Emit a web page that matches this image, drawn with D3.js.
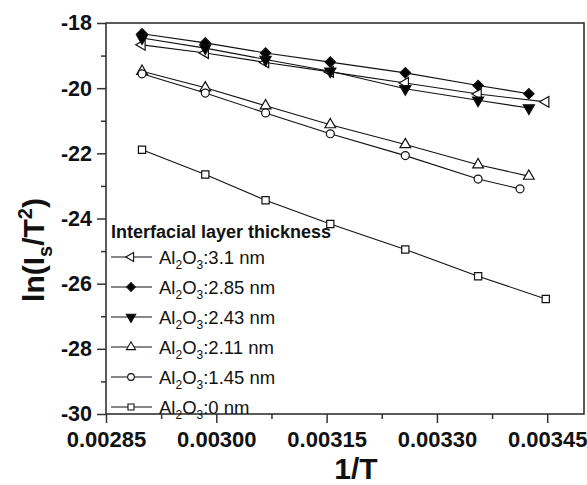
<!DOCTYPE html>
<html>
<head>
<meta charset="utf-8">
<script src="https://cdn.jsdelivr.net/npm/d3@7"></script>
<style>
  body { margin: 0; background: #fff; }
  text { font-family: "Liberation Sans", Arial, sans-serif; }
</style>
</head>
<body>
<div id="chart"></div>
<script>
// waarden
var thickness = ['3.1', '2.85', '2.43', '2.11', '1.45', '0'];
var invT310 = [0.002899, 0.002985, 0.003067, 0.003155, 0.003257, 0.003356, 0.003448];
var invT285 = [0.002899, 0.002985, 0.003067, 0.003155, 0.003257, 0.003356, 0.003425];
var invT243 = [0.002899, 0.002985, 0.003067, 0.003155, 0.003257, 0.003356, 0.003425];
var invT211 = [0.002899, 0.002985, 0.003067, 0.003155, 0.003257, 0.003356, 0.003425];
var invT145 = [0.002899, 0.002985, 0.003067, 0.003155, 0.003257, 0.003356, 0.003413];
var invT0 = [0.002899, 0.002985, 0.003067, 0.003155, 0.003257, 0.003356, 0.003448];
var ln310 = [-18.67, -18.92, -19.21, -19.50, -19.84, -20.18, -20.42];
var ln285 = [-18.33, -18.61, -18.92, -19.20, -19.53, -19.92, -20.17];
var ln243 = [-18.46, -18.77, -19.12, -19.48, -20.02, -20.37, -20.61];
var ln211 = [-19.48, -19.99, -20.54, -21.12, -21.73, -22.35, -22.70];
var ln145 = [-19.56, -20.15, -20.76, -21.40, -22.07, -22.79, -23.09];
var ln0 = [-21.89, -22.65, -23.44, -24.17, -24.95, -25.77, -26.47];
var xTicks = [0.00285, 0.00300, 0.00315, 0.00330, 0.00345];
var xMinor = [0.002925, 0.003075, 0.003225, 0.003375];
var yTicks = [-30, -28, -26, -24, -22, -20, -18];
var yMinor = [-29, -27, -25, -23, -21, -19];

var xs = [invT310, invT285, invT243, invT211, invT145, invT0];
var ys = [ln310, ln285, ln243, ln211, ln145, ln0];
// marker per serie: vorm, gevuld, rotatie
var markers = [
  { type: d3.symbolTriangle, size: 50, fill: 'white', rot: -90 },
  { type: d3.symbolSquare, size: 54, fill: 'black', rot: 45 },
  { type: d3.symbolTriangle, size: 54, fill: 'black', rot: 180 },
  { type: d3.symbolTriangle, size: 50, fill: 'white', rot: 0 },
  { type: d3.symbolCircle, size: 50, fill: 'white', rot: 0 },
  { type: d3.symbolSquare, size: 52, fill: 'white', rot: 0 }
];

var width = 587, height = 485;
var pLeft = 106, pRight = 584, pTop = 23, pBottom = 414;

var svg = d3.select('#chart').append('svg')
  .attr('width', width)
  .attr('height', height);

var x = d3.scaleLinear().domain([0.00285, 0.0035]).range([pLeft, pRight]);
var y = d3.scaleLinear().domain([-30, -18]).range([pBottom, pTop]);

// assen
var xAxis = svg.append('g').attr('transform', 'translate(0,' + pBottom + ')')
  .call(d3.axisBottom(x).tickValues(xTicks).tickSize(9).tickPadding(8)
    .tickFormat(d3.format('.5f')));
var xAxisMinor = svg.append('g').attr('transform', 'translate(0,' + pBottom + ')')
  .call(d3.axisBottom(x).tickValues(xMinor).tickSize(5).tickFormat(''));
var yAxis = svg.append('g').attr('transform', 'translate(' + pLeft + ',0)')
  .call(d3.axisLeft(y).tickValues(yTicks).tickSize(9).tickPadding(5)
    .tickFormat(function (d) { return String(d); }));
var yAxisMinor = svg.append('g').attr('transform', 'translate(' + pLeft + ',0)')
  .call(d3.axisLeft(y).tickValues(yMinor).tickSize(5).tickFormat(''));

svg.selectAll('.domain').remove();
svg.selectAll('.tick line').attr('stroke', '#333').attr('stroke-width', 1.5);
xAxis.selectAll('text').attr('font-size', 22).attr('font-weight', 'bold').attr('fill', '#111');
yAxis.selectAll('text').attr('font-size', 21.5).attr('font-weight', 'bold').attr('fill', '#111');

// ram
svg.append('rect')
  .attr('x', pLeft).attr('y', pTop)
  .attr('width', pRight - pLeft).attr('height', pBottom - pTop)
  .attr('fill', 'none').attr('stroke', '#333').attr('stroke-width', 1.6);

// lijnen
var line = d3.line()
  .x(function (d) { return x(d[0]); })
  .y(function (d) { return y(d[1]); });

var series = xs.map(function (xv, i) {
  return xv.map(function (v, j) { return [v, ys[i][j]]; });
});

svg.selectAll('path.serie')
  .data(series).enter()
  .append('path')
  .attr('class', 'serie')
  .attr('d', line)
  .attr('fill', 'none')
  .attr('stroke', '#111')
  .attr('stroke-width', 1.1);

// markers
series.forEach(function (s, i) {
  var m = markers[i];
  svg.selectAll('path.m' + i)
    .data(s).enter()
    .append('path')
    .attr('class', 'm' + i)
    .attr('d', d3.symbol().type(m.type).size(m.size))
    .attr('transform', function (d) {
      return 'translate(' + x(d[0]) + ',' + y(d[1]) + ') rotate(' + m.rot + ')';
    })
    .attr('fill', m.fill)
    .attr('stroke', '#111')
    .attr('stroke-width', 1.2);
});

// legenda
var legend = svg.append('g');
legend.append('text')
  .attr('x', 111).attr('y', 238)
  .attr('font-size', 18).attr('font-weight', 'bold').attr('fill', '#111')
  .text('Interfacial layer thickness');

thickness.forEach(function (t, i) {
  var ly = 257 + i * 30;
  var m = markers[i];
  legend.append('line')
    .attr('x1', 111).attr('x2', 152).attr('y1', ly).attr('y2', ly)
    .attr('stroke', '#111').attr('stroke-width', 1.1);
  legend.append('path')
    .attr('d', d3.symbol().type(m.type).size(m.size * 0.7))
    .attr('transform', 'translate(131,' + ly + ') rotate(' + m.rot + ')')
    .attr('fill', m.fill).attr('stroke', '#111').attr('stroke-width', 1.1);
  var txt = legend.append('text')
    .attr('x', 159).attr('y', ly + 6.5)
    .attr('font-size', 18.5).attr('fill', '#111');
  txt.append('tspan').text('Al');
  txt.append('tspan').attr('font-size', 12).attr('dy', 5).text('2');
  txt.append('tspan').attr('dy', -5).text('O');
  txt.append('tspan').attr('font-size', 12).attr('dy', 5).text('3');
  txt.append('tspan').attr('dy', -5).text(':' + t + ' nm');
});

// astitels
svg.append('text')
  .attr('x', 356).attr('y', 479)
  .attr('text-anchor', 'middle')
  .attr('font-size', 30).attr('font-weight', 'bold').attr('fill', '#111')
  .text('1/T');

var yt = svg.append('text')
  .attr('transform', 'translate(44,250) rotate(-90)')
  .attr('text-anchor', 'middle')
  .attr('font-size', 30).attr('font-weight', 'bold').attr('fill', '#111');
yt.append('tspan').text('ln(I');
yt.append('tspan').attr('font-size', 20).attr('dy', 8).text('s');
yt.append('tspan').attr('dy', -8).text('/T');
yt.append('tspan').attr('font-size', 20).attr('dy', -12).text('2');
yt.append('tspan').attr('dy', 12).text(')');
</script>
</body>
</html>
